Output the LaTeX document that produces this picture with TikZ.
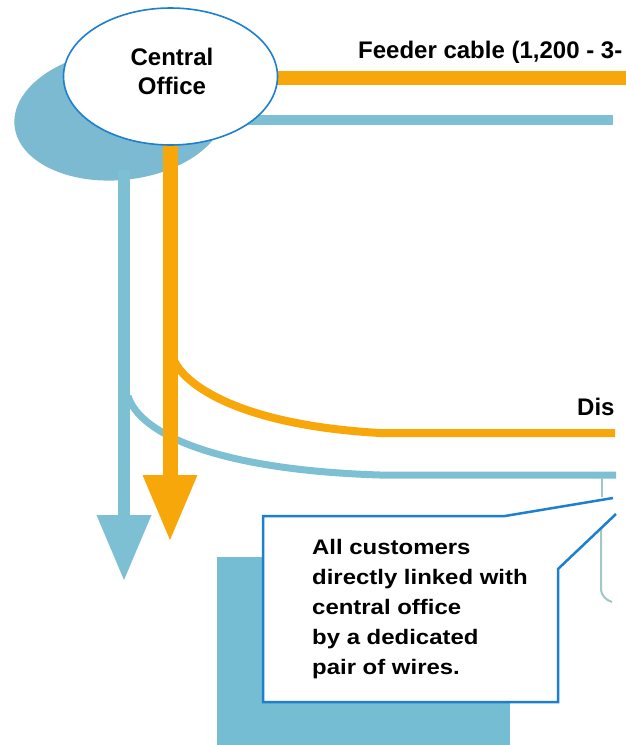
\documentclass[tikz,border=0pt]{standalone}
\usepackage{fontspec}
\setmainfont{Liberation Sans}
\newfontfamily\calloutfont[FakeStretch=1.14]{Liberation Sans}
\usetikzlibrary{shapes.geometric}

\definecolor{cableorange}{HTML}{F7A70A}
\definecolor{cableblue}{HTML}{7DBFD3}
\definecolor{officeblob}{HTML}{7BBAD0}
\definecolor{houseblue}{HTML}{74BDD2}
\definecolor{outlineblue}{HTML}{1C7FD0}
\definecolor{dropwire}{HTML}{A3C6C6}

\begin{document}
\begin{tikzpicture}[x=1pt,y=-1pt,
  labeltext/.style={inner sep=0pt, font=\bfseries\fontsize{24}{29}\selectfont},
  notetext/.style={inner sep=0pt, align=left, font=\calloutfont\bfseries\fontsize{21}{30}\selectfont},
  bluecable/.style={draw=cableblue},
  orangecable/.style={draw=cableorange},
  wire/.style={draw=dropwire, line width=2pt}]
\useasboundingbox (0,0) rectangle (626,745);
\clip (0,0) rectangle (626,745);

% shadow blob behind the central office
\fill[officeblob, rotate around={6:(120,115)}] (120,115) ellipse [x radius=106, y radius=65];

% anchor points of the cables
\coordinate (bf-start) at (200,120);
\coordinate (bf-end)   at (613,120);
\coordinate (bv-top)   at (124,170);
\coordinate (bv-base)  at (124,515);
\coordinate (bv-tip)   at (124,580);
\coordinate (bd-start) at (128,396);
\coordinate (bd-end)   at (616,475);
\coordinate (of-start) at (230,78);
\coordinate (of-end)   at (640,78);
\coordinate (ov-top)   at (170,130);
\coordinate (ov-base)  at (170,475);
\coordinate (ov-tip)   at (170,540);
\coordinate (od-start) at (173,358);
\coordinate (od-end)   at (615,433);

% blue (customer pair) cables
\draw[bluecable, line width=10pt] (bf-start) -- (bf-end);
\draw[bluecable, line width=12pt] (bv-top) -- (bv-base);
\fill[cableblue] ([xshift=-27.5pt]bv-base) -- ([xshift=27.5pt]bv-base) -- (bv-tip) -- cycle;
\draw[bluecable, line width=7pt] (bd-start) .. controls (140,435) and (220,470) .. (380,475) -- (bd-end);

% orange (feeder) cables
\draw[orangecable, line width=14pt] (of-start) -- (of-end);
\draw[orangecable, line width=8pt] (od-start) .. controls (183,385) and (240,425) .. (380,433) -- (od-end);
\draw[orangecable, line width=15pt] (ov-top) -- (ov-base);
\fill[cableorange] ([xshift=-27.5pt]ov-base) -- ([xshift=27.5pt]ov-base) -- (ov-tip) -- cycle;

% central office
\node[draw=outlineblue, line width=1.6pt, fill=white, ellipse, inner sep=0pt,
      minimum width=214pt, minimum height=137pt] (office) at (170.5,76.5) {};
\node[labeltext, align=center, anchor=north] (office-text) at (172,47.5) {Central\\Office};

% cable labels
\node[labeltext, anchor=base west] (feeder) at (358,58) {Feeder cable (1,200 - 3-};
\node[labeltext, anchor=base west] (dist) at (577,415) {Dis};

% drop wire to a customer
\coordinate (dw-top) at (602,478);
\coordinate (dw-mid) at (602,497);
\coordinate (dw-low) at (601,520);
\coordinate (dw-end) at (612,602);
\draw[wire] (dw-top) -- (dw-mid);
\draw[wire] (dw-low) -- (601,588) .. controls (601,596) and (606,600) .. (dw-end);

% customer building
\fill[houseblue] (217,557) rectangle (510,745);

% callout box
\coordinate (co-tipa) at (613,498);
\coordinate (co-tipb) at (616,514);
\filldraw[fill=white, draw=outlineblue, line width=2.5pt, line join=miter]
  (co-tipa) -- (505,516) -- (263,516) -- (263,702) -- (558,702) -- (558,569) -- (co-tipb);
\node[notetext, anchor=north west] (note) at (312,539)
  {All customers\\directly linked with\\central office\\by a dedicated\\pair of wires.};
\end{tikzpicture}
\end{document}
